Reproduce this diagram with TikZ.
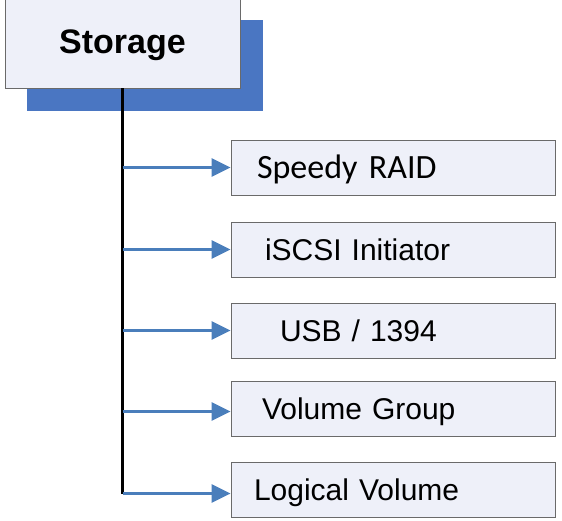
\documentclass[tikz,border=0pt]{standalone}
\usepackage{fontspec}
\setmainfont{Liberation Sans}
\newfontfamily\carlito{Carlito}
\usetikzlibrary{arrows.meta}
\definecolor{boxfill}{HTML}{EEF0F9}
\definecolor{boxline}{HTML}{6A6A6A}
\definecolor{shadowblue}{HTML}{4A76C2}
\definecolor{arrowblue}{HTML}{4A7EBB}
\tikzset{
    root/.style={draw=boxline, fill=boxfill, line width=0.8pt,
        minimum width=235pt, minimum height=95pt, inner sep=0pt,
        text height=30pt, text depth=5pt,
        font=\bfseries\fontsize{34}{40}\selectfont},
    leaf/.style={draw=boxline, fill=boxfill, line width=0.8pt,
        minimum height=55pt, inner sep=0pt, text width=324pt, align=left,
        text height=27pt, text depth=5pt,
        font=\fontsize{30}{36}\selectfont,
        execute at begin node={\hspace*{#1}}},
    trunk/.style={line width=2.4pt, black},
    branch/.style={line width=2.6pt, arrowblue,
        -{Triangle[length=19pt,width=18pt]}}
}
\begin{document}
\begin{tikzpicture}[x=1pt, y=-1pt]
    \useasboundingbox (0,0) rectangle (562,520);
    \fill[shadowblue] (27,20) rectangle (263,111);
    \node[root] (storage) at (122.5,40.5) {Storage};

    \node[leaf=26pt, font=\carlito\fontsize{34}{40}\selectfont] (raid) at (393,167.5) {Speedy RAID};
    \node[leaf=34pt] (iscsi) at (393,249.5) {iSCSI Initiator};
    \node[leaf=49pt] (usb) at (393,330.5) {USB / 1394};
    \node[leaf=31pt] (vg) at (393,408.5) {Volume Group};
    \node[leaf=23pt] (lv) at (393,489.5) {Logical Volume};

    \coordinate (corner) at ([yshift=-4pt]storage.south |- lv.west);
    \draw[trunk] (storage.south) -- (corner);
    \draw[branch] (storage.south |- raid.west) -- (raid.west);
    \draw[branch] (storage.south |- iscsi.west) -- (iscsi.west);
    \draw[branch] (storage.south |- usb.west) -- (usb.west);
    \draw[branch] ([yshift=-3pt]storage.south |- vg.west) -- ([yshift=-3pt]vg.west);
    \draw[branch] (corner) -- ([yshift=-4pt]lv.west);
\end{tikzpicture}
\end{document}
